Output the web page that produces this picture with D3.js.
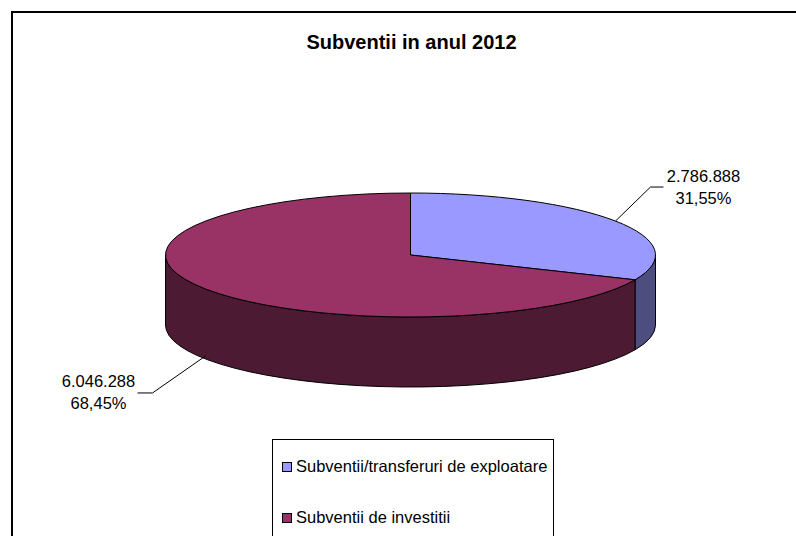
<!DOCTYPE html>
<html>
<head>
<meta charset="utf-8">
<script src="https://cdn.jsdelivr.net/npm/d3@7"></script>
<style>
  html, body { margin: 0; padding: 0; background: #fff; }
  svg { display: block; }
  text { font-family: "Liberation Sans", Arial, sans-serif; fill: #000; }
</style>
</head>
<body>
<svg id="chart" width="796" height="536"></svg>
<script>
const title = "Subventii in anul 2012";
const categories = ["Subventii/transferuri de exploatare", "Subventii de investitii"];
const values = [2786888, 6046288];
const valueLabels = ["2.786.888", "6.046.288"];
const percentLabels = ["31,55%", "68,45%"];
const topColors = ["#9999FF", "#993366"];
const sideColors = ["#4D4D80", "#4D1A33"];

const svg = d3.select("#chart");
const W = 796, H = 536;

// outer chart border
svg.append("rect").attr("x", 12).attr("y", 12).attr("width", 800).attr("height", 540)
  .attr("fill", "#fff").attr("stroke", "#000").attr("stroke-width", 2);

// title
svg.append("text").attr("x", 411.5).attr("y", 48.5).attr("text-anchor", "middle")
  .style("font-size", "20px").style("font-weight", "bold").text(title);

// 3D pie geometry
const cx = 410.5, cy = 255, rx = 245, ry = 62, depth = 70;
const pie = d3.pie().sort(null).startAngle(0).endAngle(2 * Math.PI);
const arcs = pie(values);
const px = a => cx + rx * Math.sin(a);
const py = a => cy - ry * Math.cos(a);

function topPath(d) {
  const large = (d.endAngle - d.startAngle) > Math.PI ? 1 : 0;
  return `M${cx},${cy}L${px(d.startAngle)},${py(d.startAngle)}` +
    `A${rx},${ry} 0 ${large} 1 ${px(d.endAngle)},${py(d.endAngle)}Z`;
}
function sidePath(a0, a1) {
  const large = (a1 - a0) > Math.PI ? 1 : 0;
  return `M${px(a0)},${py(a0)}A${rx},${ry} 0 ${large} 1 ${px(a1)},${py(a1)}` +
    `L${px(a1)},${py(a1) + depth}A${rx},${ry} 0 ${large} 0 ${px(a0)},${py(a0) + depth}Z`;
}

const g = svg.append("g");
// side walls (front half: angles PI/2 .. 3PI/2)
arcs.forEach((d, i) => {
  const s0 = Math.max(d.startAngle, Math.PI / 2);
  const s1 = Math.min(d.endAngle, 3 * Math.PI / 2);
  if (s1 > s0) {
    g.append("path").attr("d", sidePath(s0, s1))
      .attr("fill", sideColors[i]).attr("stroke", "#000").attr("stroke-width", 1)
      .attr("stroke-linejoin", "round");
  }
});
// top faces
arcs.forEach((d, i) => {
  g.append("path").attr("d", topPath(d))
    .attr("fill", topColors[i]).attr("stroke", "#000").attr("stroke-width", 1)
    .attr("stroke-linejoin", "round");
});

// data labels with leader lines
const labelCfg = [
  { dy: 0, elbow: [35, -34], tail: 13, side: 1, gap: 40, base: -5 },
  { dy: depth - 3, elbow: [-53, 37], tail: 15, side: -1, gap: 39, base: -6 }
];
arcs.forEach((d, i) => {
  const c = labelCfg[i];
  const m = (d.startAngle + d.endAngle) / 2;
  const ax = px(m), ay = py(m) + c.dy;
  const ex = ax + c.elbow[0], ey = ay + c.elbow[1];
  const tx = ex + c.side * c.tail;
  svg.append("path").attr("d", `M${ax},${ay}L${ex},${ey}L${tx},${ey}`)
    .attr("fill", "none").attr("stroke", "#000").attr("stroke-width", 1);
  const lx = tx + c.side * c.gap;
  const t = svg.append("text").attr("text-anchor", "middle").style("font-size", "16.5px");
  t.append("tspan").attr("x", lx).attr("y", ey + c.base).text(valueLabels[i]);
  t.append("tspan").attr("x", lx).attr("y", ey + c.base + 22).text(percentLabels[i]);
});

// legend
svg.append("rect").attr("x", 272.5).attr("y", 439.5).attr("width", 281).attr("height", 120)
  .attr("fill", "#fff").attr("stroke", "#000").attr("stroke-width", 1);
categories.forEach((c, i) => {
  const y = 472 + i * 51;
  svg.append("rect").attr("x", 282.5).attr("y", y - 9.5).attr("width", 9).attr("height", 9)
    .attr("fill", topColors[i]).attr("stroke", "#000").attr("stroke-width", 1);
  svg.append("text").attr("x", 296).attr("y", y).style("font-size", "16.5px").text(c);
});
</script>
</body>
</html>
